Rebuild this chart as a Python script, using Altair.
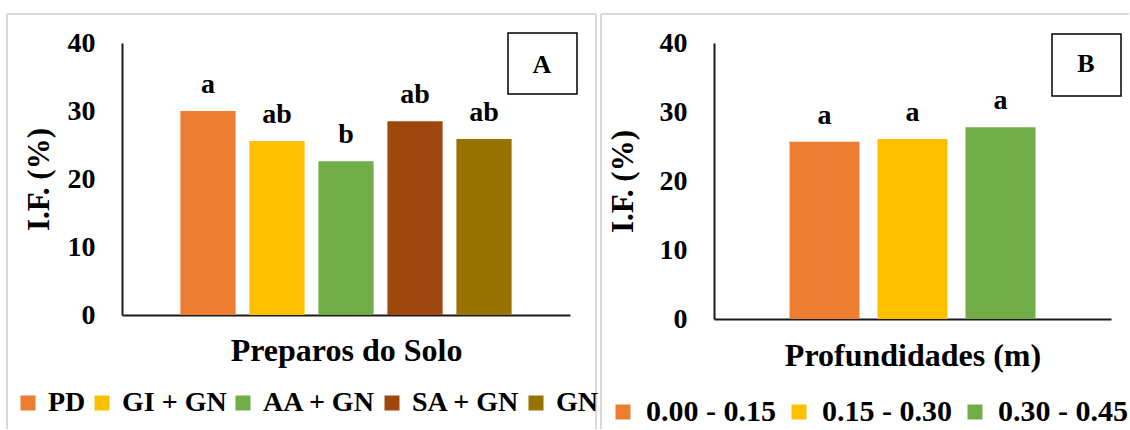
import altair as alt
import pandas as pd

# ---- data ----
prep_cats = ["PD", "GI + GN", "AA + GN", "SA + GN", "GN"]
prep_vals = [30.0, 25.6, 22.6, 28.5, 25.9]
prep_letters = ["a", "ab", "b", "ab", "ab"]
prep_colors = ["#ED7D31", "#FFC000", "#70AD47", "#9E480E", "#997300"]

prof_cats = ["0.00 - 0.15", "0.15 - 0.30", "0.30 - 0.45"]
prof_vals = [25.7, 26.1, 27.8]
prof_letters = ["a", "a", "a"]
prof_colors = ["#ED7D31", "#FFC000", "#70AD47"]

y_ticks = [0, 10, 20, 30, 40]
y_title = "I.F. (%)"

FONT = "Liberation Serif, Times New Roman, serif"
AXIS_COLOR = "#1a1a1a"
FRAME_COLOR = "#d9d9d9"


def panel(cats, vals, letters, colors, width, height, p_inner, p_outer,
          xtitle, tag, frame, right_side, tagbox, tagxy, legxy, col_pad, lab_off, leg_size,
          ytitle_pad, xtitle_pad):
    df = pd.DataFrame({"cat": cats, "val": vals, "letter": letters})
    one = pd.DataFrame({"k": [0]})
    xenc = alt.X("cat:N", sort=cats,
                 scale=alt.Scale(paddingInner=p_inner, paddingOuter=p_outer),
                 axis=alt.Axis(labels=False, ticks=False, title=xtitle,
                               domainColor=AXIS_COLOR, domainWidth=2,
                               titleFont=FONT, titleFontWeight="bold",
                               titleFontSize=32, titleColor="black",
                               titlePadding=xtitle_pad))
    yenc = alt.Y("val:Q", scale=alt.Scale(domain=[0, 40], nice=False),
                 axis=alt.Axis(values=y_ticks, grid=False, ticks=False,
                               domainColor=AXIS_COLOR, domainWidth=2,
                               labelFont=FONT, labelFontWeight="bold",
                               labelFontSize=28, labelColor="black",
                               labelPadding=27, title=y_title,
                               titleFont=FONT, titleFontWeight="bold",
                               titleFontSize=31, titleColor="black",
                               titlePadding=ytitle_pad))
    base = alt.Chart(df)
    x0, x1, y0, y1 = frame
    layers = [
        alt.Chart(one).mark_rule(color=FRAME_COLOR, strokeWidth=2).encode(
            x=alt.value(x0), y=alt.value(y0), y2=alt.value(y1)),
        alt.Chart(one).mark_rule(color=FRAME_COLOR, strokeWidth=2).encode(
            x=alt.value(x0), x2=alt.value(x1), y=alt.value(y0)),
    ]
    if right_side:
        layers.append(alt.Chart(one).mark_rule(color=FRAME_COLOR, strokeWidth=2).encode(
            x=alt.value(x1), y=alt.value(y0), y2=alt.value(y1)))
    bars = base.mark_bar().encode(
        x=xenc, y=yenc,
        color=alt.Color("cat:N", sort=cats,
                        scale=alt.Scale(domain=cats, range=colors),
                        legend=alt.Legend(orient="none", legendX=legxy[0], legendY=legxy[1],
                                          direction="horizontal", columns=len(cats),
                                          symbolType="square", symbolSize=225,
                                          symbolStrokeWidth=0, symbolOpacity=1,
                                          labelFont=FONT, labelFontWeight="bold",
                                          labelFontSize=leg_size, labelColor="black",
                                          labelOffset=lab_off, columnPadding=col_pad,
                                          labelLimit=0, title=None)))
    txt = base.mark_text(dy=-18, baseline="alphabetic", font=FONT, fontWeight="bold",
                         fontSize=28, color="black").encode(
        x=alt.X("cat:N", sort=cats), y=alt.Y("val:Q"), text="letter:N")
    box = alt.Chart(one).mark_rect(fill="white", stroke="black", strokeWidth=1.5).encode(
        x=alt.value(tagbox[0]), x2=alt.value(tagbox[1]),
        y=alt.value(tagbox[2]), y2=alt.value(tagbox[3]))
    tg = alt.Chart(one).mark_text(font=FONT, fontWeight="bold", fontSize=26,
                                  color="black", baseline="middle", align="center").encode(
        x=alt.value(tagxy[0]), y=alt.value(tagxy[1]), text=alt.value(tag))
    layers += [bars, txt, box, tg]
    return alt.layer(*layers).properties(width=width, height=height)


left = panel(prep_cats, prep_vals, prep_letters, prep_colors, 448, 272, 0.2, 0.846,
             "Preparos do Solo", "A", (-115, 474, -29, 386), True,
             (386, 455, -10, 51), (420, 22), (-108, 346), 2, 6, 28, 12, 20)
right = panel(prof_cats, prof_vals, prof_letters, prof_colors, 397, 276, 0.205, 0.858,
              "Profundidades (m)", "B", (-113, 415, -29, 386), False,
              (338, 407, -9, 53), (372, 21), (-106, 354), 8, 8, 30, 20, 21)

chart = alt.hconcat(left, right, spacing=2).resolve_scale(
    color="independent", x="independent", y="independent"
).configure_view(strokeWidth=0).properties(
    padding={"left": 6, "top": 13, "right": 0, "bottom": 0}, background="white")

chart.save("out.html", embed_options={"renderer": "svg", "actions": False})
